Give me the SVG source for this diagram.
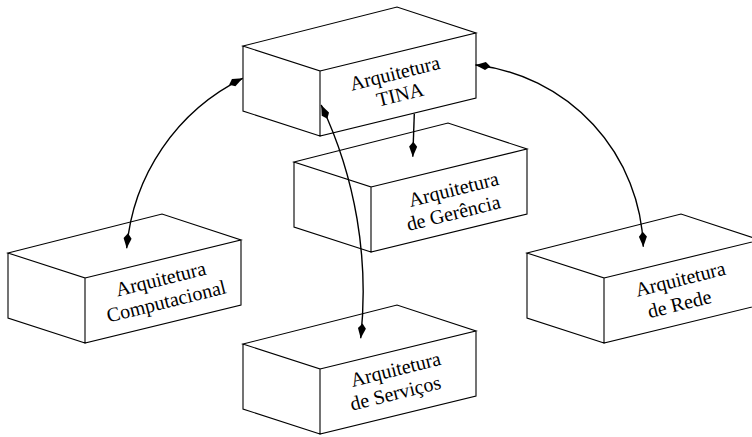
<svg xmlns="http://www.w3.org/2000/svg" width="752" height="437" viewBox="0 0 752 437">
<style>
.box{fill:#fff;stroke:#000;stroke-width:1.1;stroke-linejoin:miter}
.lbl{font-family:"Liberation Serif","Times New Roman",serif;font-size:20px;fill:#000;text-anchor:middle}
.con{fill:none;stroke:#000;stroke-width:1.4}
.head{fill:#000;stroke:none}
</style>
<defs>
<path id="cube" d="M0,0 L154,-39 L233,-13 L77,25 Z M0,0 L77,25 L77,90 L0,65 Z M77,25 L233,-13 L233,52 L77,90 Z"/>
</defs>
<rect width="752" height="437" fill="#fff"/>
<g id="tina">
<use href="#cube" class="box" x="243" y="46"/>
<g transform="rotate(-14 400 86)">
<text class="lbl" x="398" y="79">Arquitetura</text>
<text class="lbl" x="398" y="101">TINA</text>
</g>
</g>
<g id="gerencia">
<use href="#cube" class="box" x="294" y="162"/>
<g transform="rotate(-14 455 203)">
<text class="lbl" x="457" y="196">Arquitetura</text>
<text class="lbl" x="451" y="219">de Gerência</text>
</g>
</g>
<g id="computacional">
<use href="#cube" class="box" x="8" y="253"/>
<g transform="rotate(-14 165 292)">
<text class="lbl" x="164" y="285">Arquitetura</text>
<text class="lbl" x="164" y="308">Computacional</text>
</g>
</g>
<g id="rede">
<use href="#cube" class="box" x="527" y="253"/>
<g transform="rotate(-14 681 294)">
<text class="lbl" x="684" y="286">Arquitetura</text>
<text class="lbl" x="677" y="310">de Rede</text>
</g>
</g>
<g id="servicos">
<use href="#cube" class="box" x="243" y="344"/>
<g transform="rotate(-14 397 383)">
<text class="lbl" x="399" y="376">Arquitetura</text>
<text class="lbl" x="393" y="399">de Serviços</text>
</g>
</g>
<g id="connectors">
<path class="con" d="M233.7,82.6 L242.7,78.3 A209,209 0 0 0 126.7,248.3"/>
<path class="con" d="M485.5,66 L475.5,65 A189,189 0 0 1 643.3,246.7"/>
<path class="con" d="M325.3,114.1 L321.2,105 A437,437 0 0 1 360.7,338.3"/>
<path class="con" d="M414.3,113.7 L412.8,156.7"/>
<polygon class="head" points="242.7,78.3 235.41,86.24 229.18,84.79 231.95,79.02"/>
<polygon class="head" points="126.7,248.3 123.60,237.99 128.02,233.36 131.56,238.69"/>
<polygon class="head" points="475.5,65 485.86,62.05 490.42,66.54 485.04,70.01"/>
<polygon class="head" points="643.3,246.7 646.91,236.55 642.72,231.71 638.91,236.87"/>
<polygon class="head" points="321.2,105 328.98,112.44 327.41,118.65 321.70,115.76"/>
<polygon class="head" points="360.7,338.3 365.90,328.87 362.54,323.41 357.96,327.89"/>
<polygon class="head" points="412.8,156.7 417.15,146.85 413.32,141.71 409.15,146.57"/>
</g>
</svg>
